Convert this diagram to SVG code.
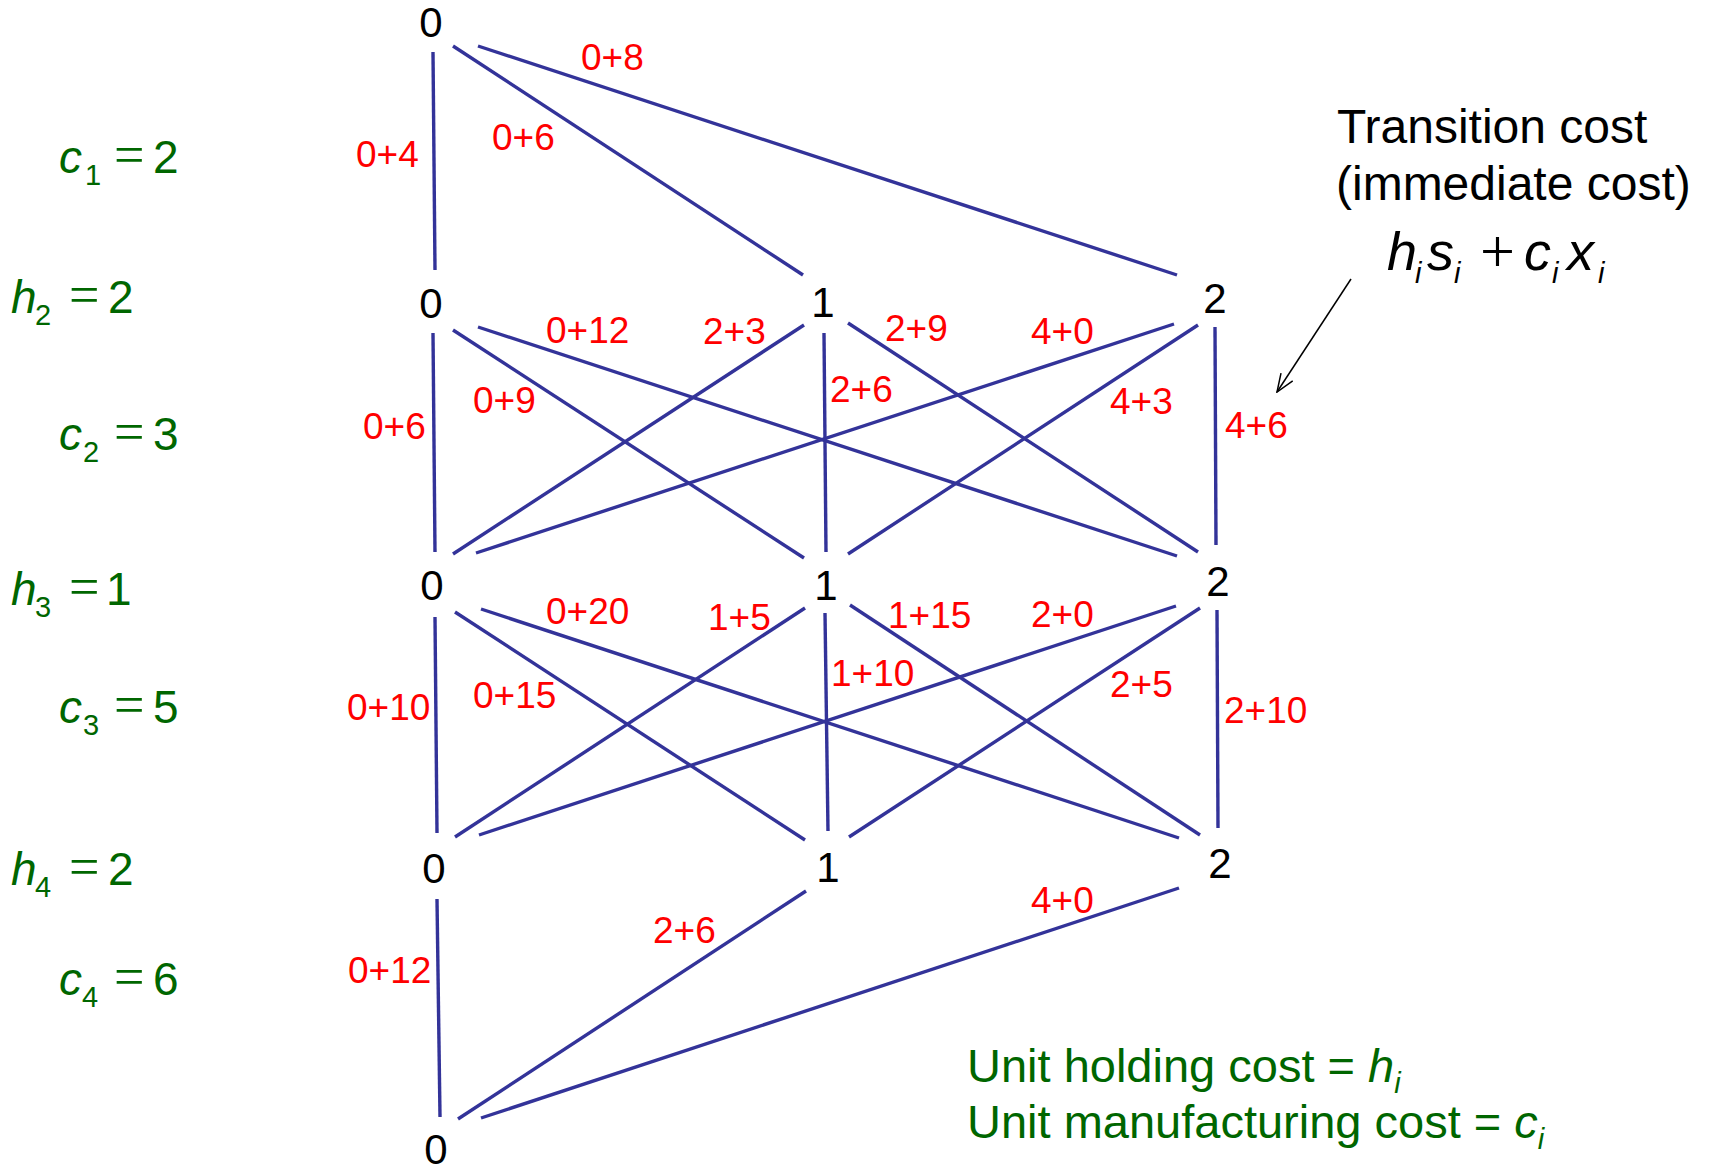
<svg xmlns="http://www.w3.org/2000/svg" width="1709" height="1168" viewBox="0 0 1709 1168">
<style>
.node{font-family:"Liberation Sans",Arial,sans-serif;font-size:42px;fill:#000;text-anchor:middle}
.edge{stroke:#333399;stroke-width:3.4;fill:none}
.lbl{font-family:"Liberation Sans",Arial,sans-serif;font-size:37px;fill:#ff0000}
.par{font-family:"Liberation Sans",Arial,sans-serif;font-size:46px;fill:#006600}
.it{font-style:italic}
.sub{font-size:29px}
.eq{font-family:"Liberation Serif","Times New Roman",serif;font-size:54px}
.plus{font-family:"Liberation Serif","Times New Roman",serif;font-size:62px}
.note{font-family:"Liberation Sans",Arial,sans-serif;font-size:48px;fill:#000}
.leg{font-family:"Liberation Sans",Arial,sans-serif;font-size:47px;fill:#006600}
</style>
<defs>
<marker id="open" viewBox="0 0 20 16" refX="19" refY="8" markerWidth="20" markerHeight="16" markerUnits="userSpaceOnUse" orient="auto">
<path d="M1,1 L19,8 L1,15" fill="none" stroke="#000" stroke-width="1.5"/>
</marker>
</defs>
<rect width="1709" height="1168" fill="#fff"/>

<g id="connectors">
<line class="edge" x1="433" y1="52" x2="435" y2="270"/>
<line class="edge" x1="453" y1="46" x2="803" y2="275"/>
<line class="edge" x1="478" y1="46" x2="1177" y2="275"/>

<line class="edge" x1="433" y1="333" x2="435" y2="552"/>
<line class="edge" x1="453" y1="330" x2="804" y2="558"/>
<line class="edge" x1="478" y1="327" x2="1177" y2="556"/>
<line class="edge" x1="804" y1="325" x2="453" y2="554"/>
<line class="edge" x1="824" y1="333" x2="826" y2="552"/>
<line class="edge" x1="848" y1="323" x2="1198" y2="552"/>
<line class="edge" x1="1174" y1="324" x2="476" y2="553"/>
<line class="edge" x1="1198" y1="325" x2="848" y2="554"/>
<line class="edge" x1="1215" y1="327" x2="1216" y2="545"/>

<line class="edge" x1="435" y1="617" x2="437" y2="833"/>
<line class="edge" x1="455" y1="612" x2="805" y2="840"/>
<line class="edge" x1="481" y1="609" x2="1179" y2="838"/>
<line class="edge" x1="805" y1="608" x2="455" y2="837"/>
<line class="edge" x1="825" y1="613" x2="828" y2="831"/>
<line class="edge" x1="850" y1="605" x2="1200" y2="835"/>
<line class="edge" x1="1176" y1="606" x2="479" y2="835"/>
<line class="edge" x1="1200" y1="608" x2="849" y2="837"/>
<line class="edge" x1="1217" y1="610" x2="1218" y2="828"/>

<line class="edge" x1="437" y1="899" x2="440" y2="1117"/>
<line class="edge" x1="806" y1="891" x2="458" y2="1119"/>
<line class="edge" x1="1179" y1="888" x2="481" y2="1118"/>

<line x1="1351" y1="279" x2="1277" y2="392" stroke="#000" stroke-width="1.5" marker-end="url(#open)"/>
</g>

<g id="edge-labels">
<text class="lbl" x="581" y="70">0+8</text>
<text class="lbl" x="356" y="167">0+4</text>
<text class="lbl" x="492" y="150">0+6</text>
<text class="lbl" x="546" y="343">0+12</text>
<text class="lbl" x="703" y="344">2+3</text>
<text class="lbl" x="885" y="341">2+9</text>
<text class="lbl" x="1031" y="344">4+0</text>
<text class="lbl" x="830" y="402">2+6</text>
<text class="lbl" x="1110" y="414">4+3</text>
<text class="lbl" x="1225" y="438">4+6</text>
<text class="lbl" x="473" y="413">0+9</text>
<text class="lbl" x="363" y="439">0+6</text>
<text class="lbl" x="546" y="624">0+20</text>
<text class="lbl" x="708" y="630">1+5</text>
<text class="lbl" x="888" y="628">1+15</text>
<text class="lbl" x="1031" y="627">2+0</text>
<text class="lbl" x="831" y="686">1+10</text>
<text class="lbl" x="1110" y="697">2+5</text>
<text class="lbl" x="1224" y="723">2+10</text>
<text class="lbl" x="473" y="708">0+15</text>
<text class="lbl" x="347" y="720">0+10</text>
<text class="lbl" x="348" y="983">0+12</text>
<text class="lbl" x="653" y="943">2+6</text>
<text class="lbl" x="1031" y="913">4+0</text>
</g>

<g id="n-r0-0"><text class="node" x="431" y="37">0</text></g>
<g id="n-r1-0"><text class="node" x="431" y="318">0</text></g>
<g id="n-r1-1"><text class="node" x="823" y="317">1</text></g>
<g id="n-r1-2"><text class="node" x="1215" y="313">2</text></g>
<g id="n-r2-0"><text class="node" x="432" y="600">0</text></g>
<g id="n-r2-1"><text class="node" x="826" y="600">1</text></g>
<g id="n-r2-2"><text class="node" x="1218" y="596">2</text></g>
<g id="n-r3-0"><text class="node" x="434" y="883">0</text></g>
<g id="n-r3-1"><text class="node" x="828" y="882">1</text></g>
<g id="n-r3-2"><text class="node" x="1220" y="878">2</text></g>
<g id="n-r4-0"><text class="node" x="436" y="1164">0</text></g>

<g id="params">
<text class="par" y="173"><tspan class="it" x="59">c</tspan><tspan class="sub" x="85" y="185">1</tspan><tspan class="eq" x="114" y="173">=</tspan><tspan x="153" y="173">2</tspan></text>
<text class="par" y="313"><tspan class="it" x="11">h</tspan><tspan class="sub" x="35" y="325">2</tspan><tspan class="eq" x="69" y="313">=</tspan><tspan x="108" y="313">2</tspan></text>
<text class="par" y="450"><tspan class="it" x="59">c</tspan><tspan class="sub" x="83" y="462">2</tspan><tspan class="eq" x="114" y="450">=</tspan><tspan x="153" y="450">3</tspan></text>
<text class="par" y="605"><tspan class="it" x="11">h</tspan><tspan class="sub" x="35" y="617">3</tspan><tspan class="eq" x="69" y="605">=</tspan><tspan x="106" y="605">1</tspan></text>
<text class="par" y="723"><tspan class="it" x="59">c</tspan><tspan class="sub" x="83" y="735">3</tspan><tspan class="eq" x="114" y="723">=</tspan><tspan x="153" y="723">5</tspan></text>
<text class="par" y="885"><tspan class="it" x="11">h</tspan><tspan class="sub" x="35" y="897">4</tspan><tspan class="eq" x="69" y="885">=</tspan><tspan x="108" y="885">2</tspan></text>
<text class="par" y="995"><tspan class="it" x="59">c</tspan><tspan class="sub" x="82" y="1007">4</tspan><tspan class="eq" x="114" y="995">=</tspan><tspan x="153" y="995">6</tspan></text>
</g>

<g id="transition-note">
<text class="note" x="1337" y="143">Transition cost</text>
<text class="note" x="1336" y="200">(immediate cost)</text>
<text class="note" y="270" style="font-size:54px"><tspan class="it" x="1387">h</tspan><tspan class="it sub" x="1415" y="283">i</tspan><tspan class="it" x="1427" y="270">s</tspan><tspan class="it sub" x="1454" y="283">i</tspan><tspan class="plus" x="1480" y="272">+</tspan><tspan class="it" x="1524" y="270">c</tspan><tspan class="it sub" x="1552" y="283">i</tspan><tspan class="it" x="1567" y="270">x</tspan><tspan class="it sub" x="1598" y="283">i</tspan></text>
</g>

<g id="legend">
<text class="leg" x="967" y="1082">Unit holding cost = <tspan class="it">h</tspan><tspan class="it sub" y="1093">i</tspan></text>
<text class="leg" x="967" y="1138">Unit manufacturing cost = <tspan class="it">c</tspan><tspan class="it sub" y="1149">i</tspan></text>
</g>
</svg>
